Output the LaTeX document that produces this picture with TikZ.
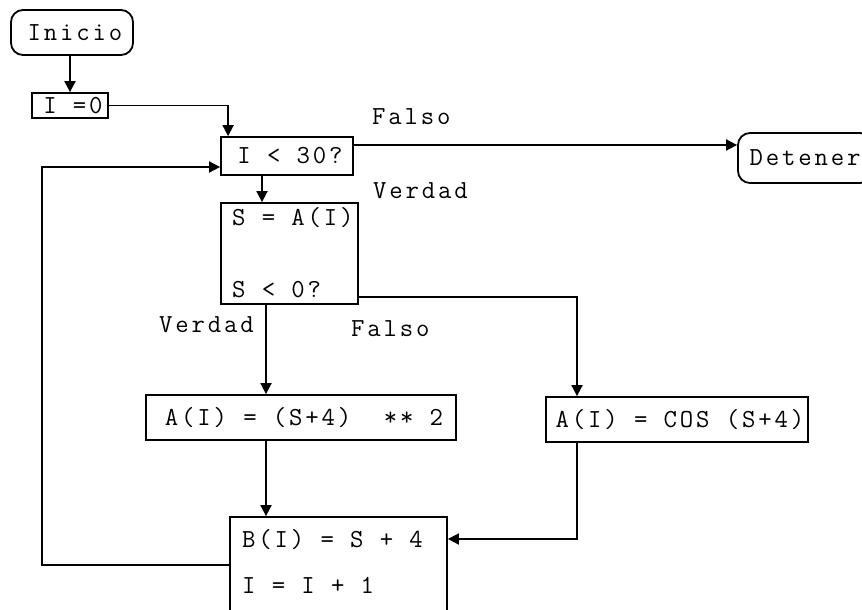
\documentclass[tikz,border=0pt]{standalone}
\usepackage{fontspec}
\usetikzlibrary{arrows.meta}
\newfontfamily\dfamily{Latin Modern Mono}[LetterSpace=11]
\newcommand{\dfont}{\dfamily\fontsize{26}{30}\selectfont}
\tikzset{
  every node/.style={font=\dfont, inner sep=0pt},
  box/.style={draw, line width=1.8pt, rectangle, text height=15.5pt, text depth=0pt},
  cbox/.style={box, execute at begin node={\hspace*{6pt}}},
  term/.style={cbox, rounded corners=12pt},
  edgeterm/.style={box, rounded corners=12pt},
  lbl/.style={anchor=base west},
  arr/.style={line width=1.8pt, -{Triangle[length=11pt,width=11pt]}},
}
\begin{document}
\begin{tikzpicture}[x=1pt,y=-1pt]
\useasboundingbox (0,0) rectangle (862,610);
% nodes
\node[term, minimum width=122pt, minimum height=45pt] (ini) at (72,32.5) {Inicio};
\node[cbox, minimum width=76pt, minimum height=25pt] (i0) at (70,105.5) {I =0};
\node[cbox, minimum width=132pt, minimum height=38pt] (i30) at (287,156) {I < 30?};
\node[edgeterm, minimum width=134pt, minimum height=50pt] (det) at (805,158) {Detener};
\node[box, minimum width=137pt, minimum height=101pt] (s) at (289.5,253.5) {};
\node[lbl] (s1) at (232,225) {S = A(I)};
\node[lbl] (s2) at (232,297) {S < 0?};
\node[cbox, minimum width=310pt, minimum height=45pt] (a1) at (301,417.5) {A(I) = (S+4)~~** 2};
\node[cbox, minimum width=262pt, minimum height=45pt] (a2) at (677,419.5) {A(I) = COS (S+4)};
\node[box, minimum width=217pt, minimum height=110pt] (b) at (338.5,572) {};
\node[lbl] (b1) at (242,547) {B(I) = S + 4};
\node[lbl] (b2) at (242,593) {I = I + 1};
% labels
\node[lbl] (f1) at (372,124) {Falso};
\node[lbl] (v1) at (373,198) {Verdad};
\node[lbl] (v2) at (159,332) {Verdad};
\node[lbl] (f2) at (351,336) {Falso};
% connectors
\draw[arr] (i0.north |- ini.south) -- (i0.north);
\draw[arr] (i0.east) -| ([xshift=8pt]i30.north west);
\draw[arr] (i30.east |- 0,145) -- (det.west |- 0,145);
\draw[arr] (i30.south -| 262,0) -- (s.north -| 262,0);
\draw[arr] (s.east |- 0,297) -| (a2.north -| 577,0);
\draw[arr] (s.south -| 266,0) -- (a1.north -| 266,0);
\draw[arr] (a1.south -| 266,0) -- (b.north -| 266,0);
\draw[arr] (a2.south -| 577,0) |- (b.east |- 0,539);
\coordinate (lp) at (42,565);
\draw[arr] (b.west |- lp) -- (lp) |- (i30.west |- 0,167);
\end{tikzpicture}
\end{document}
